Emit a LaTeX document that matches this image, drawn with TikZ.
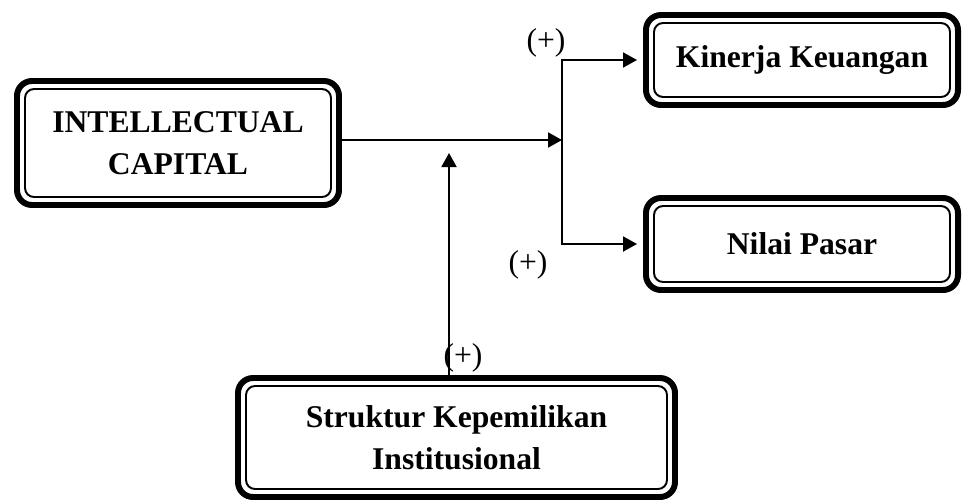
\documentclass[tikz,border=0pt]{standalone}
\usepackage{fontspec}
\setmainfont{Liberation Serif}
\usepackage{tikz}
\usetikzlibrary{arrows.meta,positioning,calc}
\tikzset{
    every node/.style={font=\fontsize{18}{24}\selectfont},
    varbox/.style={
        draw=black, line width=3.4pt, rounded corners=0.3cm,
        align=center, inner sep=0pt,
        font=\fontsize{18}{24}\selectfont\bfseries
    },
    innerline/.style={
        line width=1.1pt, rounded corners=0.18cm
    },
    flow/.style={
        -{Triangle[length=0.28cm,width=0.3cm]}, line width=1.1pt
    },
    signlabel/.style={
        font=\fontsize{18}{22}\selectfont, inner sep=0pt
    },
}
\begin{document}
\begin{tikzpicture}
    \useasboundingbox (0,0) rectangle (19.26,-10.04);

    % Variables
    \node[varbox, minimum width=6.44cm, minimum height=2.48cm] (ic) at (3.56,-2.86) {INTELLECTUAL\\CAPITAL};
    \node[varbox, minimum width=6.24cm, minimum height=1.8cm] (kk) at (16.04,-1.2) {Kinerja Keuangan};
    \node[varbox, minimum width=6.24cm, minimum height=1.84cm] (np) at (16.04,-4.88) {Nilai Pasar};
    \node[varbox, minimum width=8.74cm, minimum height=2.38cm] (sk) at (9.13,-8.75) {Struktur Kepemilikan\\Institusional};

    % Thin inner border
    \foreach \b in {ic,kk,np,sk}
        \draw[innerline] ([shift={(0.22,-0.22)}]\b.north west) rectangle ([shift={(-0.22,0.22)}]\b.south east);

    % Paths
    \coordinate (junction) at (11.24,-2.8);
    \coordinate (modtip) at (8.98,-3.06);
    \draw[flow] (ic.east |- junction) -- (junction);
    \draw[flow, shorten >=0.12cm] (junction) |- (kk.west);
    \draw[flow, shorten >=0.12cm] (junction) |- (np.west);
    \draw[flow] (sk.north -| modtip) -- (modtip);

    % Signs
    \node[signlabel] (plus1) at (10.92,-0.86) {(+)};
    \node[signlabel] (plus2) at (10.56,-5.3) {(+)};
    \node[signlabel] (plus3) at (9.26,-7.16) {(+)};
\end{tikzpicture}
\end{document}
